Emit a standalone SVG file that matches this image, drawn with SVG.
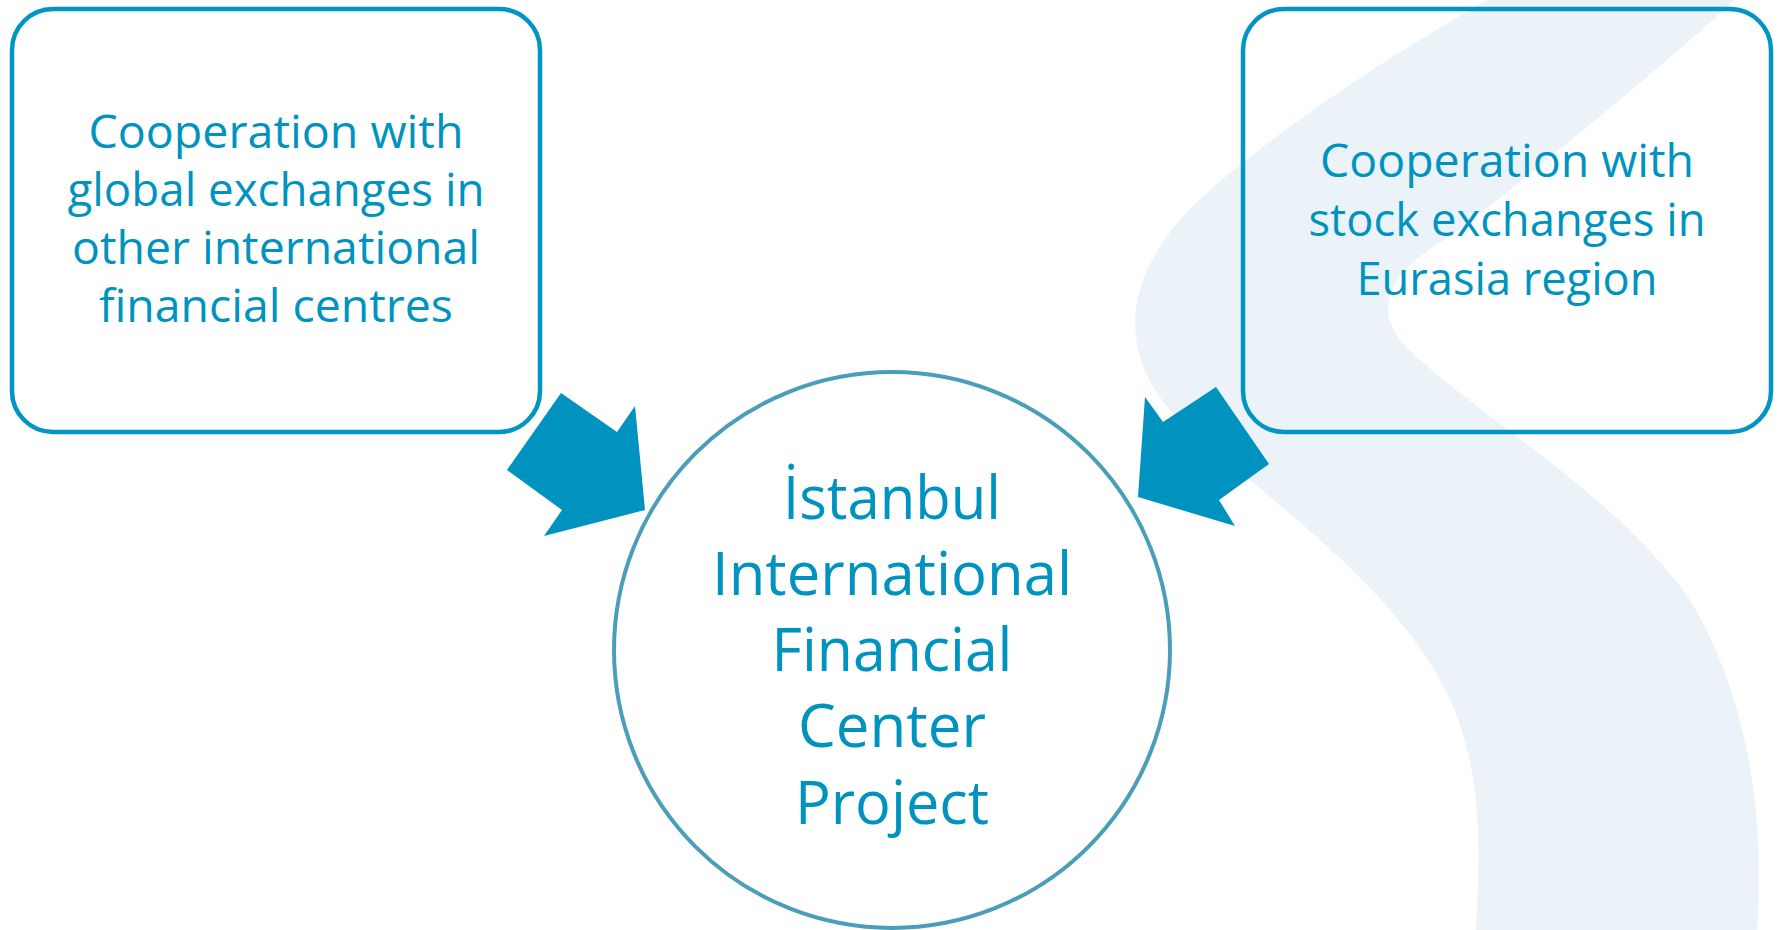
<svg xmlns="http://www.w3.org/2000/svg" width="1778" height="930" viewBox="0 0 1778 930">
<style>
.box{fill:none;stroke:#0095c2;stroke-width:4.5}
.circ{fill:#ffffff;stroke:#4a9eb9;stroke-width:4}
.t{font-family:"Open Sans","Noto Sans","Liberation Sans",sans-serif;fill:#0093c0;text-anchor:middle}
.s{font-size:46px}
.c{font-size:61px}
.arrow{fill:#0093bf}
</style>
<rect width="1778" height="930" fill="#ffffff"/>
<path id="bg-band" d="M1487,0 C1400,50 1290,120 1210,190 C1130,260 1110,340 1170,410 C1240,480 1380,570 1440,680 C1485,760 1480,850 1476,930 L1757,930 C1765,820 1750,700 1690,600 C1620,500 1500,430 1420,360 C1360,310 1390,270 1460,230 C1560,150 1670,60 1735,0 Z" fill="#ebf3f9"/>
<g id="node-global">
<rect class="box" x="12" y="9" width="528" height="423" rx="41"/>
<text class="t s" x="276" y="148" textLength="375" lengthAdjust="spacingAndGlyphs">Cooperation with</text>
<text class="t s" x="276" y="206" textLength="417" lengthAdjust="spacingAndGlyphs">global exchanges in</text>
<text class="t s" x="276" y="264" textLength="408" lengthAdjust="spacingAndGlyphs">other international</text>
<text class="t s" x="276" y="322" textLength="354" lengthAdjust="spacingAndGlyphs">financial centres</text>
</g>
<g id="node-eurasia">
<rect class="box" x="1243" y="9" width="528" height="423" rx="41"/>
<text class="t s" x="1507" y="177" textLength="374" lengthAdjust="spacingAndGlyphs">Cooperation with</text>
<text class="t s" x="1507" y="236" textLength="397" lengthAdjust="spacingAndGlyphs">stock exchanges in</text>
<text class="t s" x="1507" y="295" textLength="301" lengthAdjust="spacingAndGlyphs">Eurasia region</text>
</g>
<g id="node-center">
<circle class="circ" cx="892" cy="650" r="278"/>
<text class="t c" x="892" y="519" textLength="218" lengthAdjust="spacingAndGlyphs">İstanbul</text>
<text class="t c" x="892" y="595" textLength="360" lengthAdjust="spacingAndGlyphs">International</text>
<text class="t c" x="892" y="671" textLength="241" lengthAdjust="spacingAndGlyphs">Financial</text>
<text class="t c" x="892" y="747" textLength="188" lengthAdjust="spacingAndGlyphs">Center</text>
<text class="t c" x="892" y="824" textLength="194" lengthAdjust="spacingAndGlyphs">Project</text>
</g>
<g id="connectors">
<polygon class="arrow" points="507,470 561,393 617,432 635,406 645,510 544,536 562,510"/>
<polygon class="arrow" points="1145,397 1163,422 1216,387 1269,464 1219,500 1235,526 1138,497"/>
</g>
</svg>
